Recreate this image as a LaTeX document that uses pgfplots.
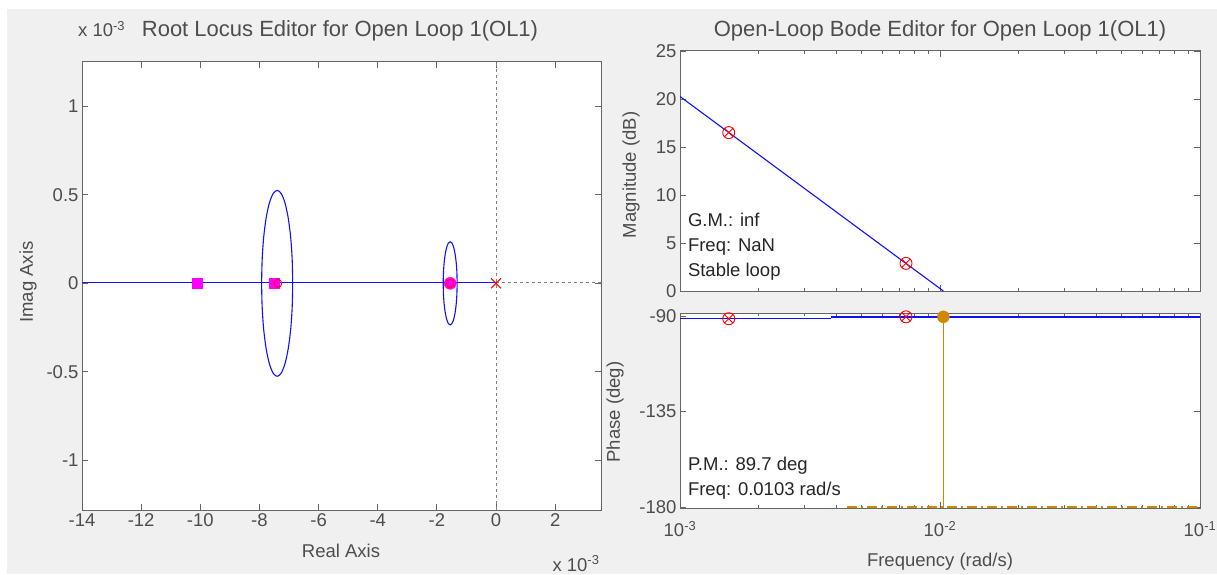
\documentclass[border=0pt]{standalone}
\usepackage{fontspec}
\setmainfont{Liberation Sans}
\usepackage{pgfplots}
\pgfplotsset{compat=1.18}
\definecolor{figbg}{HTML}{F0F0F0}
\definecolor{txt}{HTML}{4D4D4D}
\definecolor{mblue}{HTML}{1010FF}
\definecolor{mmag}{HTML}{FF00FF}
\definecolor{morange}{HTML}{D08800}
\newcommand{\fs}{\fontsize{18.5}{22}\selectfont}
\pgfplotsset{mstyle/.style={scale only axis, anchor=south west,
  axis background/.style={fill=white},
  axis line style={black!60, line width=1pt}, tick style={black!60, line width=0.8pt},
  tick align=inside, major tick length=6pt, minor tick length=3pt,
  tick label style={font=\fs, text=txt},
  /pgf/number format/assume math mode=true,
  clip=true}}
\begin{document}
\begin{tikzpicture}[x=1pt,y=1pt]
\useasboundingbox (0,0) rectangle (1217,574);
\fill[white] (0,0) rectangle (1217,574);
\fill[figbg] (7,0) rectangle (1217,565);

% ---------------- Root locus ----------------
\begin{axis}[mstyle, at={(82pt,64pt)}, width=519pt, height=448pt,
  xmin=-14, xmax=3.55, ymin=-1.28, ymax=1.25,
  xtick={-14,-12,-10,-8,-6,-4,-2,0,2}, ytick={-1,-0.5,0,0.5,1},
  yticklabels={-1,-0.5,0,0.5,1}]
\addplot[black!50, dashed, line width=0.9pt] coordinates {(0,-1.28) (0,1.25)};
\addplot[black!50, dashed, line width=0.9pt] coordinates {(0,0.003) (3.55,0.003)};
\addplot[mblue, line width=1.3pt] coordinates {(-14,0.003) (0,0.003)};
\addplot[mblue, line width=1.1pt, smooth] coordinates {
(-6.875,0) (-6.893,0.136) (-6.945,0.2625) (-7.029,0.3712) (-7.1375,0.4547) (-7.264,0.5071) (-7.4,0.525)
(-7.536,0.5071) (-7.6625,0.4547) (-7.771,0.3712) (-7.855,0.2625) (-7.907,0.136) (-7.925,0)
(-7.907,-0.136) (-7.855,-0.2625) (-7.771,-0.3712) (-7.6625,-0.4547) (-7.536,-0.5071) (-7.4,-0.525)
(-7.264,-0.5071) (-7.1375,-0.4547) (-7.029,-0.3712) (-6.945,-0.2625) (-6.893,-0.136) (-6.875,0)};
\addplot[mblue, line width=1.1pt, smooth] coordinates {
(-1.315,0) (-1.323,0.061) (-1.3465,0.1175) (-1.384,0.166) (-1.4325,0.2035) (-1.489,0.227) (-1.55,0.235)
(-1.611,0.227) (-1.6675,0.2035) (-1.716,0.166) (-1.7535,0.1175) (-1.777,0.061) (-1.785,0)
(-1.777,-0.061) (-1.7535,-0.1175) (-1.716,-0.166) (-1.6675,-0.2035) (-1.611,-0.227) (-1.55,-0.235)
(-1.489,-0.227) (-1.4325,-0.2035) (-1.384,-0.166) (-1.3465,-0.1175) (-1.323,-0.061) (-1.315,0)};
\addplot[only marks, mark=square*, mark size=5pt, mmag] coordinates {(-10.1,0) (-7.5,0)};
\addplot[only marks, mark=*, mark size=6pt, mmag] coordinates {(-1.55,0)};
\addplot[only marks, mark=o, mark size=4pt, red, line width=0.9pt] coordinates {(-7.38,0) (-1.55,0)};
\addplot[only marks, mark=x, mark size=7pt, red, line width=1pt] coordinates {(0,0)};
\end{axis}

% ---------------- Magnitude ----------------
\begin{axis}[mstyle, xmode=log, at={(680pt,283pt)}, width=520pt, height=240pt,
  xmin=1e-3, xmax=1e-1, ymin=0, ymax=25, ytick={0,5,10,15,20,25},
  xtick={0.001,0.01,0.1}, xticklabels={}]
\addplot[mblue, line width=1.1pt] coordinates {(1e-3,20.26) (0.0103,0)};
\addplot[only marks, mark=otimes, mark size=6pt, red, line width=0.9pt] coordinates {(1.54e-3,16.5) (7.4e-3,2.88)};
\node[anchor=west, align=left, font=\fs, text=black!85, inner sep=0pt] at (rel axis cs:0.015,0.183) {G.M.: inf\\[3pt]Freq: NaN\\[3pt]Stable loop};
\end{axis}

% ---------------- Phase ----------------
\begin{axis}[mstyle, xmode=log, at={(680pt,66pt)}, width=520pt, height=195pt,
  xmin=1e-3, xmax=1e-1, ymin=-180.5, ymax=-88.5, ytick={-180,-135,-90},
  xtick={0.001,0.01,0.1}, xticklabels={10\textsuperscript{-3},10\textsuperscript{-2},10\textsuperscript{-1}},
  xticklabel style={yshift=-10pt}]
\addplot[morange, line width=1.2pt, dash pattern=on 10pt off 4pt on 2pt off 4pt] coordinates {(4.4e-3,-180) (0.1,-180)};
\addplot[mblue, line width=1.2pt] coordinates {(1e-3,-91.2) (3.8e-3,-91.2)};
\addplot[mblue, line width=1.8pt] coordinates {(3.8e-3,-90.3) (0.1,-90.3)};
\addplot[morange, line width=1.6pt] coordinates {(0.0103,-90.3) (0.0103,-180.5)};
\addplot[only marks, mark=otimes, mark size=6pt, red, line width=0.9pt] coordinates {(1.54e-3,-91.2) (7.4e-3,-90.3)};
\addplot[only marks, mark=*, mark size=6pt, morange] coordinates {(0.0103,-90.3)};
\node[anchor=west, align=left, font=\fs, text=black!85, inner sep=0pt] at (rel axis cs:0.015,0.153) {P.M.: 89.7 deg\\[3pt]Freq: 0.0103 rad/s};
\end{axis}

% ---------------- texts ----------------
\node[anchor=base west, font=\fs, text=txt, inner sep=0pt] at (78,537) {x 10\textsuperscript{-3}};
\node[anchor=base, font=\fontsize{22}{24}\selectfont, text=txt, inner sep=0pt] at (340,537) {Root Locus Editor for Open Loop 1(OL1)};
\node[anchor=base, font=\fontsize{22}{24}\selectfont, text=txt, inner sep=0pt] at (940,537) {Open-Loop Bode Editor for Open Loop 1(OL1)};
\node[anchor=base, font=\fs, text=txt, inner sep=0pt] at (341,17) {Real Axis};
\node[anchor=base, font=\fs, text=txt, inner sep=0pt] at (576,3) {x 10\textsuperscript{-3}};
\node[rotate=90, font=\fs, text=txt, inner sep=0pt] at (28,292) {Imag Axis};
\node[rotate=90, font=\fs, text=txt, inner sep=0pt] at (631,399) {Magnitude (dB)};
\node[rotate=90, font=\fs, text=txt, inner sep=0pt] at (615,162) {Phase (deg)};
\node[anchor=base, font=\fs, text=txt, inner sep=0pt] at (940,8) {Frequency (rad/s)};
\end{tikzpicture}
\end{document}
